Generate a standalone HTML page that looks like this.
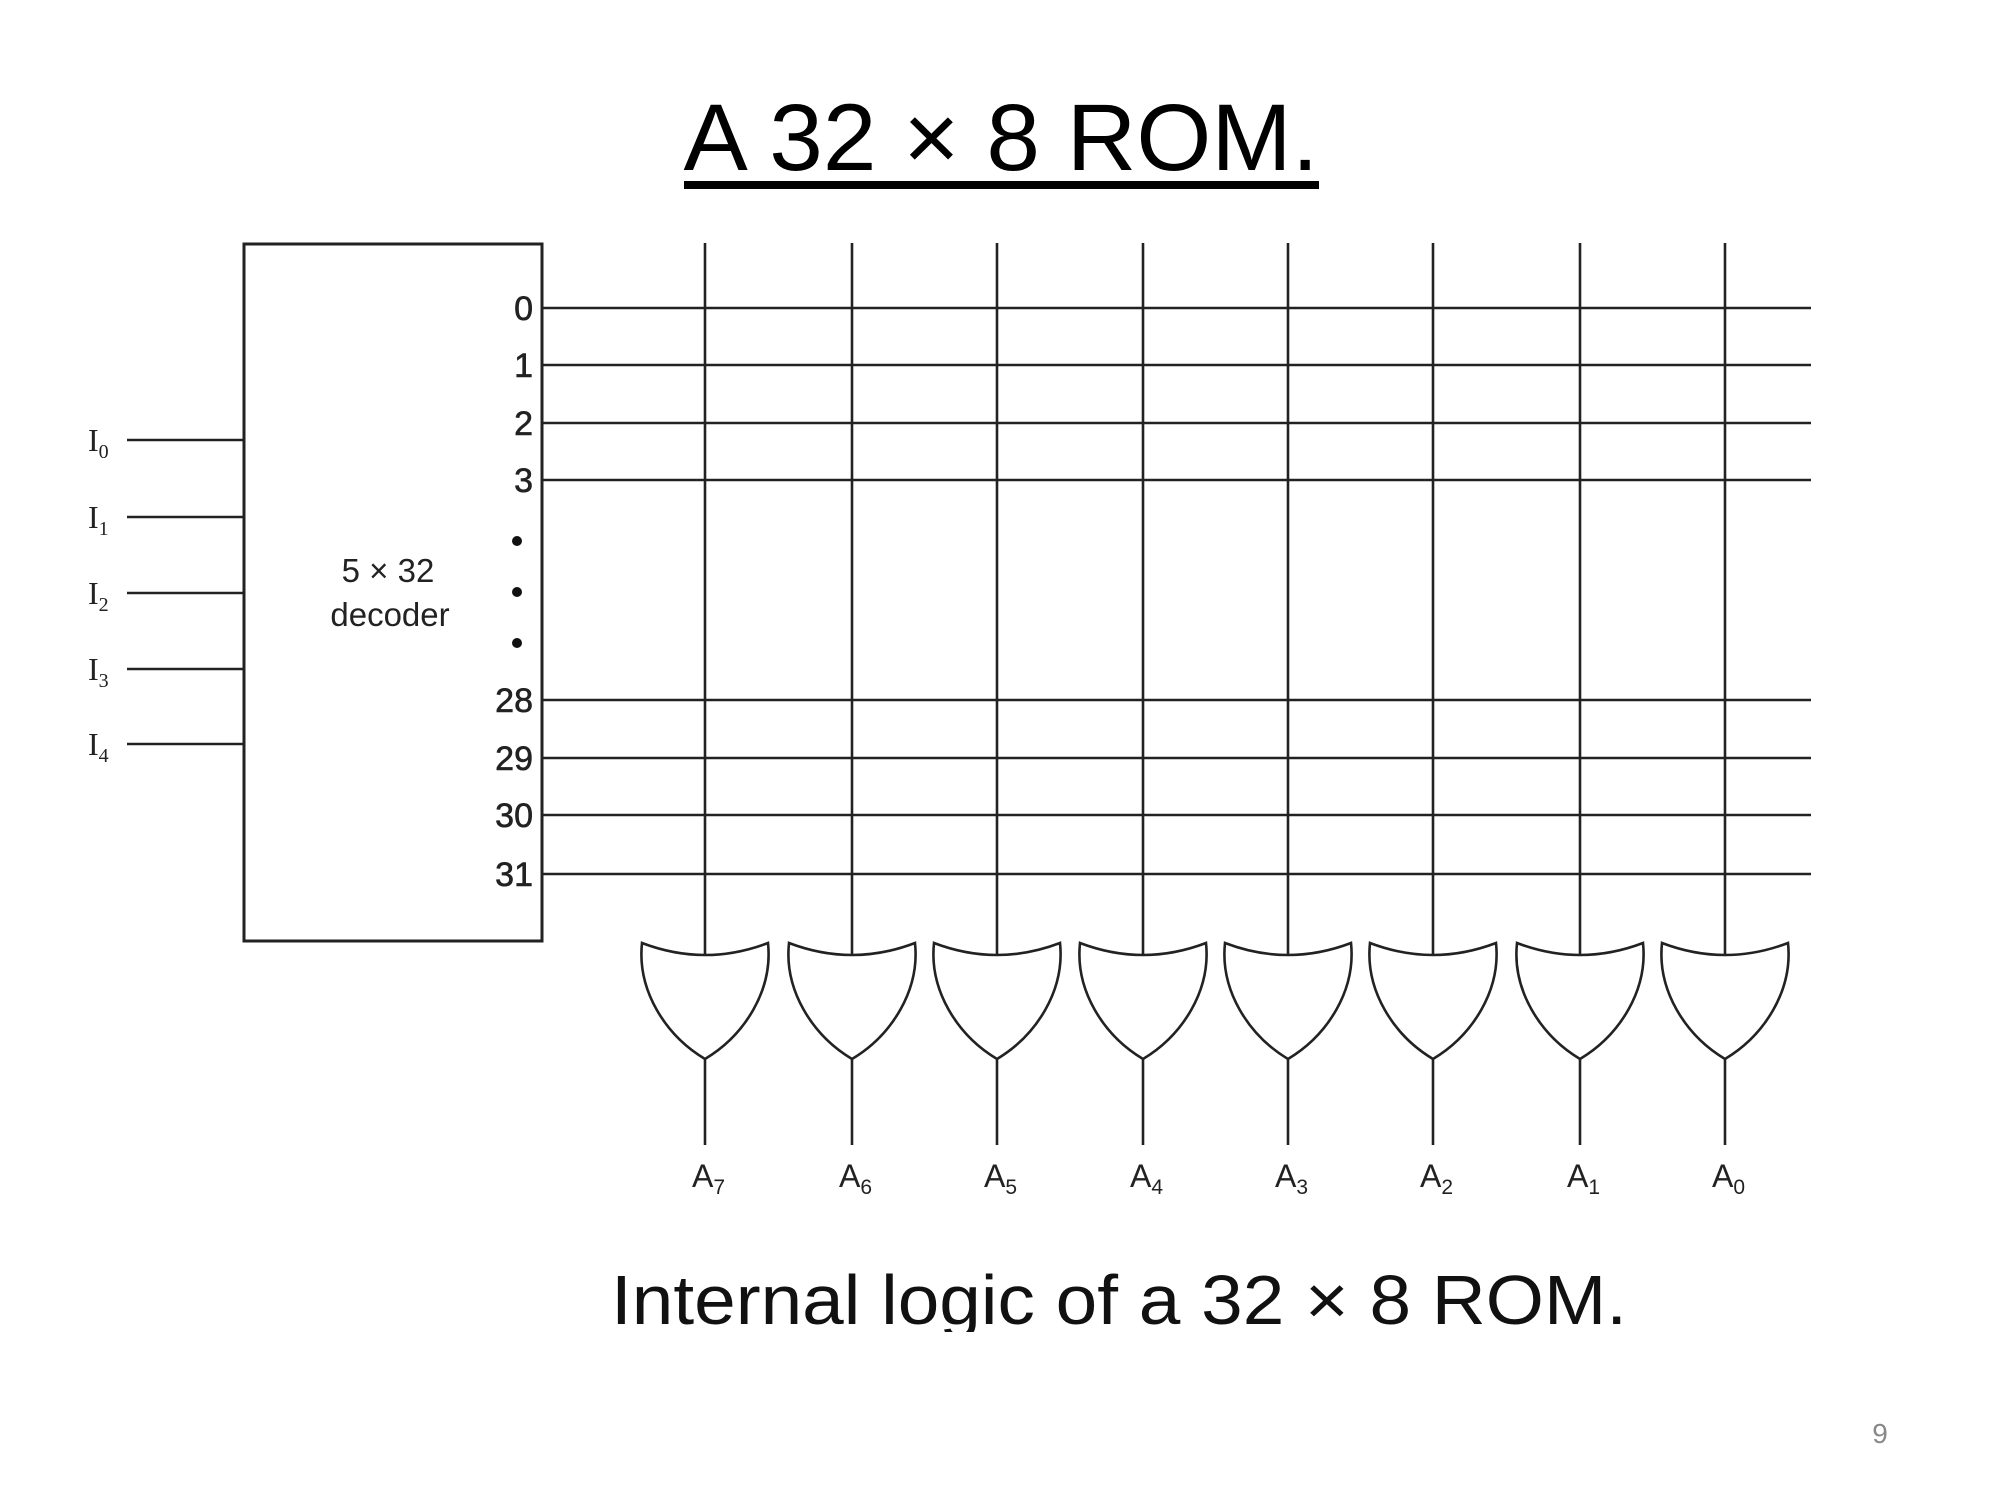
<!DOCTYPE html>
<html><head><meta charset="utf-8"><style>
html,body{margin:0;padding:0;background:#fff;width:2000px;height:1500px;overflow:hidden}
svg{display:block}
</style></head><body>
<svg width="2000" height="1500" viewBox="0 0 2000 1500" xmlns="http://www.w3.org/2000/svg">
<rect width="2000" height="1500" fill="#fff"/>
<text x="1001" y="170" font-family="Liberation Sans, sans-serif" font-size="95" text-anchor="middle" textLength="635" lengthAdjust="spacingAndGlyphs">A 32 × 8 ROM.</text>
<rect x="684" y="181" width="635" height="8" fill="#000"/>
<g stroke="#222" stroke-width="2.6" fill="none">
<rect x="244" y="244" width="298" height="697" stroke-width="3"/>
<line x1="127" y1="440" x2="244" y2="440"/>
<line x1="127" y1="517" x2="244" y2="517"/>
<line x1="127" y1="593" x2="244" y2="593"/>
<line x1="127" y1="669" x2="244" y2="669"/>
<line x1="127" y1="744" x2="244" y2="744"/>
<line x1="542" y1="308" x2="1811" y2="308"/>
<line x1="542" y1="365" x2="1811" y2="365"/>
<line x1="542" y1="423" x2="1811" y2="423"/>
<line x1="542" y1="480" x2="1811" y2="480"/>
<line x1="542" y1="700" x2="1811" y2="700"/>
<line x1="542" y1="758" x2="1811" y2="758"/>
<line x1="542" y1="815" x2="1811" y2="815"/>
<line x1="542" y1="874" x2="1811" y2="874"/>
</g>
<g fill="#111">
<circle cx="517" cy="541" r="5"/><circle cx="517" cy="592" r="5"/><circle cx="517" cy="643" r="5"/>
</g>
<g font-family="Liberation Serif, serif" font-size="32" fill="#222">
<text x="88" y="451">I<tspan font-size="20" dy="7">0</tspan></text>
<text x="88" y="528">I<tspan font-size="20" dy="7">1</tspan></text>
<text x="88" y="604">I<tspan font-size="20" dy="7">2</tspan></text>
<text x="88" y="680">I<tspan font-size="20" dy="7">3</tspan></text>
<text x="88" y="755">I<tspan font-size="20" dy="7">4</tspan></text>
</g>
<g font-family="Liberation Sans, sans-serif" font-size="34" fill="#222" text-anchor="end" stroke="#222" stroke-width="0.6">
<text x="533" y="320">0</text>
<text x="533" y="377">1</text>
<text x="533" y="435">2</text>
<text x="533" y="492">3</text>
<text x="533" y="712">28</text>
<text x="533" y="770">29</text>
<text x="533" y="827">30</text>
<text x="533" y="886">31</text>
</g>
<g font-family="Liberation Sans, sans-serif" font-size="33" fill="#222" text-anchor="middle">
<text x="388" y="582">5 × 32</text>
<text x="390" y="626">decoder</text>
</g>
<g stroke="#222" stroke-width="2.6" fill="#fff">
<g id="c">
</g>
<line x1="705" y1="243" x2="705" y2="955"/><path d="M642,943 Q705,967 768,943 C773,990 745,1035 705,1059 C665,1035 637,990 642,943 Z"/><line x1="705" y1="1059" x2="705" y2="1145"/>
<line x1="852" y1="243" x2="852" y2="955"/><path d="M789,943 Q852,967 915,943 C920,990 892,1035 852,1059 C812,1035 784,990 789,943 Z"/><line x1="852" y1="1059" x2="852" y2="1145"/>
<line x1="997" y1="243" x2="997" y2="955"/><path d="M934,943 Q997,967 1060,943 C1065,990 1037,1035 997,1059 C957,1035 929,990 934,943 Z"/><line x1="997" y1="1059" x2="997" y2="1145"/>
<line x1="1143" y1="243" x2="1143" y2="955"/><path d="M1080,943 Q1143,967 1206,943 C1211,990 1183,1035 1143,1059 C1103,1035 1075,990 1080,943 Z"/><line x1="1143" y1="1059" x2="1143" y2="1145"/>
<line x1="1288" y1="243" x2="1288" y2="955"/><path d="M1225,943 Q1288,967 1351,943 C1356,990 1328,1035 1288,1059 C1248,1035 1220,990 1225,943 Z"/><line x1="1288" y1="1059" x2="1288" y2="1145"/>
<line x1="1433" y1="243" x2="1433" y2="955"/><path d="M1370,943 Q1433,967 1496,943 C1501,990 1473,1035 1433,1059 C1393,1035 1365,990 1370,943 Z"/><line x1="1433" y1="1059" x2="1433" y2="1145"/>
<line x1="1580" y1="243" x2="1580" y2="955"/><path d="M1517,943 Q1580,967 1643,943 C1648,990 1620,1035 1580,1059 C1540,1035 1512,990 1517,943 Z"/><line x1="1580" y1="1059" x2="1580" y2="1145"/>
<line x1="1725" y1="243" x2="1725" y2="955"/><path d="M1662,943 Q1725,967 1788,943 C1793,990 1765,1035 1725,1059 C1685,1035 1657,990 1662,943 Z"/><line x1="1725" y1="1059" x2="1725" y2="1145"/>
</g>
<g font-family="Liberation Sans, sans-serif" font-size="32" fill="#222">
<text x="692" y="1187">A<tspan font-size="21" dy="7">7</tspan></text>
<text x="839" y="1187">A<tspan font-size="21" dy="7">6</tspan></text>
<text x="984" y="1187">A<tspan font-size="21" dy="7">5</tspan></text>
<text x="1130" y="1187">A<tspan font-size="21" dy="7">4</tspan></text>
<text x="1275" y="1187">A<tspan font-size="21" dy="7">3</tspan></text>
<text x="1420" y="1187">A<tspan font-size="21" dy="7">2</tspan></text>
<text x="1567" y="1187">A<tspan font-size="21" dy="7">1</tspan></text>
<text x="1712" y="1187">A<tspan font-size="21" dy="7">0</tspan></text>
</g>
<defs><clipPath id="cap"><rect x="0" y="1200" width="2000" height="132"/></clipPath></defs>
<text clip-path="url(#cap)" x="611" y="1324" font-family="Liberation Sans, sans-serif" font-size="70" fill="#111" textLength="1016" lengthAdjust="spacingAndGlyphs">Internal logic of a 32 × 8 ROM.</text>
<text x="1880" y="1443" font-family="Liberation Sans, sans-serif" font-size="28" fill="#888" text-anchor="middle">9</text>
</svg>
</body></html>
